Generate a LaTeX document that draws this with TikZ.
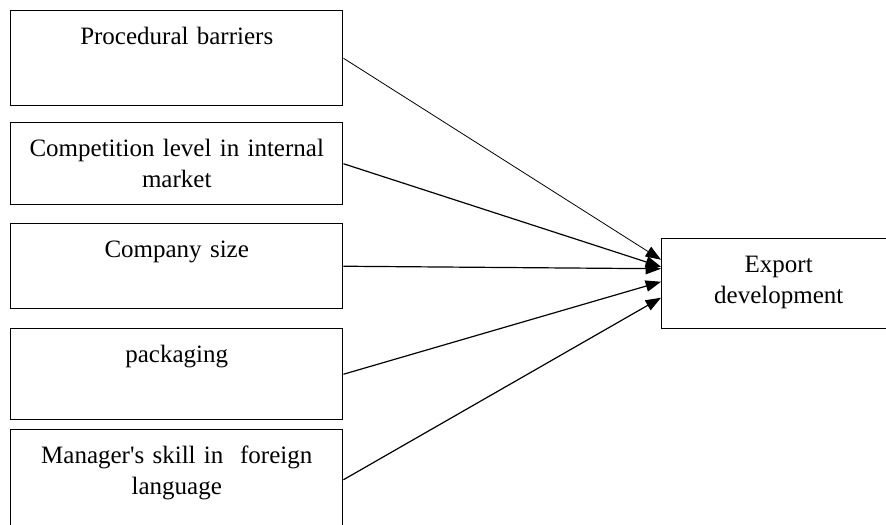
\documentclass[tikz,border=0pt]{standalone}
\usepackage{fontspec}
\setmainfont{Liberation Serif}
\usetikzlibrary{arrows.meta}
\tikzset{
  factor/.style={draw, line width=1.1pt, anchor=north west, inner xsep=0pt, inner ysep=0pt,
    text width=249pt, align=center, text height=25.5pt,
    font=\fontsize{18.75}{23}\selectfont},
  arr/.style={line width=0.9pt, -{Triangle[length=11.5pt,width=8.5pt]}}
}
\begin{document}
\begin{tikzpicture}[x=0.75pt,y=-0.75pt]
  \useasboundingbox (0,0) rectangle (886,525);
  \node[factor, text depth=45.75pt] (proc) at (10,10) {Procedural barriers};
  \node[factor, text depth=36pt] (comp) at (10,122) {Competition level in internal\\market};
  \node[factor, text depth=38.25pt] (size) at (10,223) {Company size};
  \node[factor, text depth=42.75pt] (pack) at (10,328) {packaging};
  \node[factor, text depth=49.5pt] (lang) at (10,429) {Manager\textquotesingle s skill in~ foreign\\language};
  \node[factor, text width=175.5pt, text depth=42pt] (exp) at (661,238) {Export\\development};
  \draw[arr, line width=0.6pt] (proc.east) -- ([yshift=18pt]exp.west);
  \draw[arr] (comp.east) -- ([yshift=12.75pt]exp.west);
  \draw[arr] (size.east) -- ([yshift=11.25pt]exp.west);
  \draw[arr] (pack.east) -- ([yshift=1.5pt]exp.west);
  \draw[arr] (lang.east) -- ([yshift=-10.5pt]exp.west);
\end{tikzpicture}
\end{document}
